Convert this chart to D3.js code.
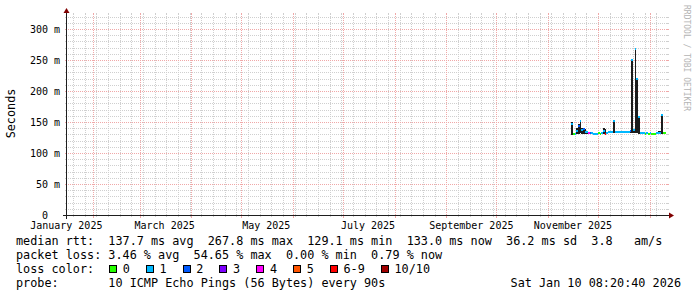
<!DOCTYPE html>
<html><head><meta charset="utf-8">
<script src="https://cdn.jsdelivr.net/npm/d3@7"></script>
<style>
html,body{margin:0;padding:0;background:#fff;}
svg{display:block;}
text{font-family:"DejaVu Sans Mono",monospace;white-space:pre;}
</style></head><body>
<svg id="c" width="697" height="297"></svg>
<script>
// ---------- DATA ----------
const dates = [
 "2025-11-15","2025-11-16","2025-11-17","2025-11-18","2025-11-19","2025-11-20","2025-11-21","2025-11-22",
 "2025-11-23","2025-11-24","2025-11-25","2025-11-26","2025-11-27","2025-11-28","2025-11-29","2025-11-30",
 "2025-12-01","2025-12-02","2025-12-03","2025-12-04","2025-12-05","2025-12-06","2025-12-07","2025-12-08",
 "2025-12-09","2025-12-10","2025-12-11","2025-12-12","2025-12-13","2025-12-14","2025-12-15","2025-12-16",
 "2025-12-17","2025-12-18","2025-12-19","2025-12-20","2025-12-21","2025-12-22","2025-12-23","2025-12-24",
 "2025-12-25","2025-12-26","2025-12-27","2025-12-28","2025-12-29","2025-12-30","2025-12-31","2026-01-01",
 "2026-01-02","2026-01-03","2026-01-04","2026-01-05","2026-01-06","2026-01-07","2026-01-08","2026-01-09",
 "2026-01-10"];
// median rtt in ms
const median = [
 147,130,130.5,135,144,152,137,138,
 134,133.5,131.5,132,133,130.5,130,130,
 131.5,131,132,135,131,133,133.5,133.5,
 133.5,152,133.5,133.5,133.8,133.5,133.2,133.5,
 133.6,133.4,133.5,135,250,137,267.8,219,
 158,131.5,131.5,131.5,131,131.5,131,131.5,
 130,130,130.5,132,133,133,161,132,
 133];
// smoke range (min / max ping) in ms
const smokeLo = [
 129,129,129,130,131,132,130,130,
 130,131,130,130,130,129,129,129.1,
 130,130,130,130,128.5,131,132,132,
 132,132,132,132,132,132,132,132,
 132,132,132,132,133,133,133,133,
 131,130,130,130,130,130,130,130,
 129,129,129,130,131,131,131,130,
 131];
const smokeHi = [
 150,131,132,141,146,153,140,141,
 138,135,133,134,134,132,131,131,
 133,132,133,140,138,134,135,135,
 135,154,135,135,135,135,135,135,
 135,135,135,136,252,139,269,220,
 159,133,133,133,132,133,132,133,
 131,131,131,134,135,135,162,133,
 134];
// lost pings out of 10
const lossCount = [
 1,0,1,1,2,1,1,2,
 1,1,4,2,1,1,1,1,
 0,0,1,1,6,1,1,1,
 1,1,1,1,1,1,1,1,
 1,1,1,2,1,1,1,1,
 1,1,1,1,0,1,0,1,
 0,0,0,1,1,1,1,0,
 0];
const yTicks = [0, 50, 100, 150, 200, 250, 300];          // ms
const xLabelMonths = ["2025-01-01","2025-03-01","2025-05-01","2025-07-01","2025-09-01","2025-11-01"];
const lossLabels = ["0","1","2","3","4","5","6-9","10/10"];
const lossColors = ["#26ff00","#00b8ff","#0059ff","#7e00ff","#ff00ff","#ff5500","#ff0000","#a10000"];
const statsLine = "median rtt:  137.7 ms avg  267.8 ms max  129.1 ms min  133.0 ms now  36.2 ms sd  3.8   am/s";
const lossLine  = "packet loss: 3.46 % avg  54.65 % max  0.00 % min  0.79 % now";
const probeLine = "probe:       10 ICMP Echo Pings (56 Bytes) every 90s";
const stampText = "Sat Jan 10 08:20:40 2026";

// ---------- LAYOUT ----------
const svg = d3.select("#c");
const X0 = 67, X1 = 667, Y0 = 215, Y1 = 15;
const DAY = 864e5;
const tStart = new Date(Date.UTC(2025,0,16,10,0,0));
const tEnd = new Date(tStart.getTime() + 360*DAY);
const x = d3.scaleUtc().domain([tStart, tEnd]).range([X0, X1]);
const y = d3.scaleLinear().domain([0, 322.58]).range([Y0, Y1]);
const parse = d3.utcParse("%Y-%m-%d");
const GRID = "#cfcfcf", MGRID = "#f0a8a8", AXIS = "#1e1e1e", ARROW = "#800000";

svg.append("rect").attr("width",697).attr("height",297).attr("fill","#fff");

const g = svg.append("g").attr("shape-rendering","crispEdges");
// minor horizontal grid (10 ms)
const minorY = d3.range(10, 323, 10).filter(v => v % 50 !== 0);
minorY.forEach(v => {
  const yy = Math.round(y(v)) + 0.5;
  g.append("line").attr("x1",X0+1).attr("x2",X1).attr("y1",yy).attr("y2",yy)
   .attr("stroke",GRID).attr("stroke-dasharray","1,1");
  g.append("line").attr("x1",X0-2).attr("x2",X0).attr("y1",yy).attr("y2",yy).attr("stroke",GRID);
  g.append("line").attr("x1",X1).attr("x2",X1+2).attr("y1",yy).attr("y2",yy).attr("stroke",GRID);
});
// minor vertical grid (weeks)
const weeks = d3.utcMonday.range(tStart, tEnd).filter(d => d.getUTCDate() !== 1);
weeks.forEach(d => {
  const xx = Math.round(x(d)) + 0.5;
  g.append("line").attr("x1",xx).attr("x2",xx).attr("y1",Y1+1).attr("y2",Y0)
   .attr("stroke",GRID).attr("stroke-dasharray","1,1");
  g.append("line").attr("x1",xx).attr("x2",xx).attr("y1",Y1-2).attr("y2",Y1).attr("stroke",GRID);
  g.append("line").attr("x1",xx).attr("x2",xx).attr("y1",Y0).attr("y2",Y0+2).attr("stroke",GRID);
});
// major horizontal grid
yTicks.filter(v => v > 0).forEach(v => {
  const yy = Math.round(y(v)) + 0.5;
  g.append("line").attr("x1",X0+1).attr("x2",X1).attr("y1",yy).attr("y2",yy)
   .attr("stroke",MGRID).attr("stroke-dasharray","1,1");
  g.append("line").attr("x1",X0-2).attr("x2",X0).attr("y1",yy).attr("y2",yy).attr("stroke",MGRID);
  g.append("line").attr("x1",X1).attr("x2",X1+2).attr("y1",yy).attr("y2",yy).attr("stroke",MGRID);
});
// major vertical grid (months)
const months = d3.utcMonth.range(tStart, tEnd);
months.forEach(d => {
  const xx = Math.round(x(d)) + 0.5;
  g.append("line").attr("x1",xx).attr("x2",xx).attr("y1",Y1+1).attr("y2",Y0)
   .attr("stroke",MGRID).attr("stroke-dasharray","1,1");
  g.append("line").attr("x1",xx).attr("x2",xx).attr("y1",Y1-2).attr("y2",Y1).attr("stroke",MGRID);
  g.append("line").attr("x1",xx).attr("x2",xx).attr("y1",Y0).attr("y2",Y0+3).attr("stroke",MGRID);
});

// ---------- DATA MARKS ----------
const rows = dates.map((s,i) => ({t: parse(s), med: median[i]/1000, lo: smokeLo[i]/1000, hi: smokeHi[i]/1000, loss: lossCount[i]}));
const lossIdx = n => n <= 5 ? n : (n < 10 ? 6 : 7);
const yms = v => y(v*1000);
const marks = svg.append("g").attr("shape-rendering","crispEdges");
marks.selectAll("rect.smoke").data(rows).join("rect").attr("class","smoke")
  .attr("x", d => x(d.t)).attr("width", d => x(d3.utcDay.offset(d.t,1)) - x(d.t))
  .attr("y", d => yms(d.hi)).attr("height", d => yms(d.lo) - yms(d.hi))
  .attr("fill","#1c1c1c");
marks.selectAll("rect.med").data(rows).join("rect").attr("class","med")
  .attr("x", d => x(d.t)).attr("width", d => x(d3.utcDay.offset(d.t,1)) - x(d.t))
  .attr("y", d => yms(d.med) - 1).attr("height", 2)
  .attr("fill", d => lossColors[lossIdx(d.loss)]);

// ---------- AXES ----------
const ax = svg.append("g").attr("shape-rendering","crispEdges");
ax.append("line").attr("x1",X0-4).attr("x2",X1+3).attr("y1",Y0+0.5).attr("y2",Y0+0.5).attr("stroke",AXIS);
ax.append("line").attr("x1",X0-0.5).attr("x2",X0-0.5).attr("y1",Y0+4).attr("y2",Y1-3).attr("stroke",AXIS);
svg.append("path").attr("d",`M${X1+2},${Y0-2.5}L${X1+7},${Y0+0.5}L${X1+2},${Y0+3.5}Z`).attr("fill",ARROW);
svg.append("path").attr("d",`M${X0-3.5},${Y1-2}L${X0-0.5},${Y1-7}L${X0+2.5},${Y1-2}Z`).attr("fill",ARROW);

// y tick labels
svg.append("g").selectAll("text").data(yTicks).join("text")
  .attr("x", 60).attr("y", d => Math.round(y(d)) + 4)
  .attr("text-anchor","end").attr("font-size",10).attr("fill","#000")
  .text(d => d === 0 ? "0  " : d + " m");
// x labels
svg.append("g").selectAll("text").data(xLabelMonths).join("text")
  .attr("x", d => x(d3.utcDay.offset(parse(d), 15))).attr("y", 228.5)
  .attr("text-anchor","middle").attr("font-size",10).attr("fill","#000")
  .text(d => d3.utcFormat("%B %Y")(parse(d)));

// y axis title
svg.append("text").attr("transform","translate(15,113.5) rotate(-90)")
  .attr("text-anchor","middle").attr("font-size",11.8).attr("fill","#000").text("Seconds");
// watermark
svg.append("text").attr("transform","translate(684,5) rotate(90)")
  .attr("font-size",8).attr("fill","#b4b4b4").text("RRDTOOL / TOBI OETIKER");

// ---------- LEGEND ----------
const FS = 11.8, CW = 7.1;
svg.append("text").attr("x",16).attr("y",245).attr("font-size",FS).text(statsLine);
svg.append("text").attr("x",16).attr("y",258.5).attr("font-size",FS).text(lossLine);
svg.append("text").attr("x",16).attr("y",273).attr("font-size",FS).text("loss color:");
let cur = 109;
lossLabels.forEach((lab,i) => {
  svg.append("rect").attr("x",cur+0.5).attr("y",265.5).attr("width",7).attr("height",7)
    .attr("fill",lossColors[i]).attr("stroke","#000").attr("stroke-width",1).attr("shape-rendering","crispEdges");
  svg.append("text").attr("x",cur+13.7).attr("y",273).attr("font-size",FS).text(lab);
  cur += 13.7 + lab.length*CW + 16;
});
svg.append("text").attr("x",16).attr("y",286.7).attr("font-size",FS).text(probeLine);
svg.append("text").attr("x",681).attr("y",286.7).attr("text-anchor","end").attr("font-size",FS).text(stampText);
</script>
</body></html>
